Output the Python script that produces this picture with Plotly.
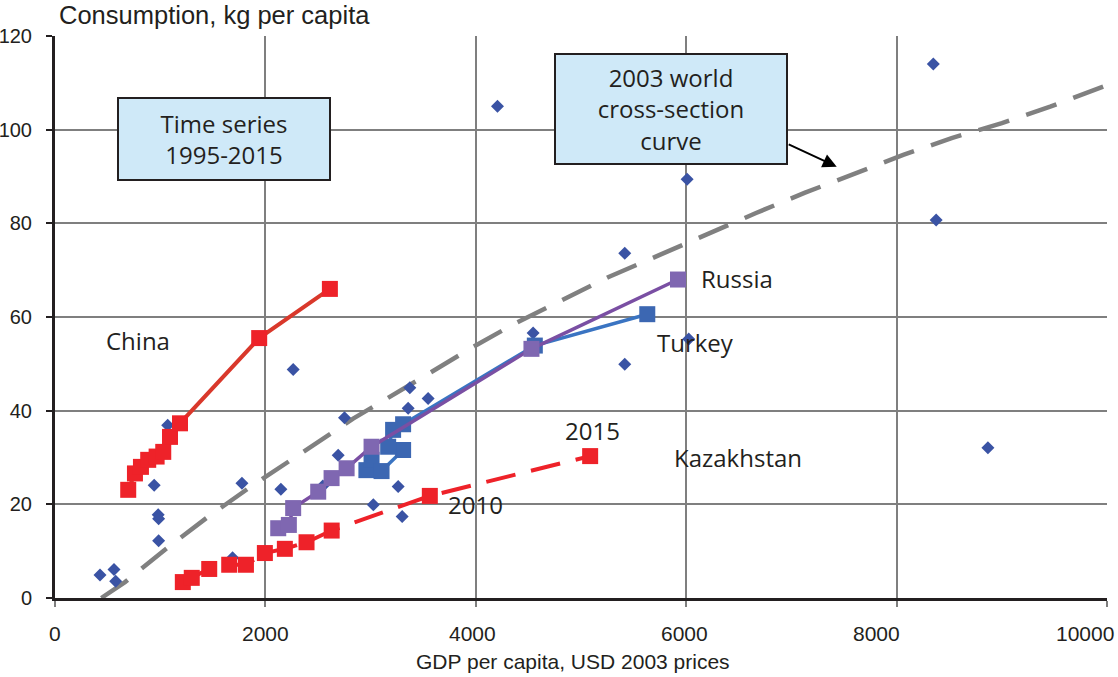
import plotly.graph_objects as go

# ---- data ----
china_gdp = [696, 760, 817, 886, 966, 1029, 1093, 1188, 1941, 2613]
china_cons = [23.1, 26.6, 28.0, 29.5, 30.2, 31.2, 34.4, 37.3, 55.5, 66.0]

kaz_gdp = [1215, 1300, 1466, 1656, 1815, 1995, 2185, 2391, 2630, 3563, 5087]
kaz_cons = [3.4, 4.3, 6.2, 7.1, 7.1, 9.6, 10.5, 11.9, 14.4, 21.8, 30.3]

russia_gdp = [2122, 2223, 2264, 2502, 2629, 2772, 3009, 4529, 5922]
russia_cons = [14.9, 15.6, 19.2, 22.7, 25.6, 27.7, 32.3, 53.2, 68.0]

turkey_gdp = [2960, 3009, 3104, 3309, 3167, 3214, 3309, 4561, 5630]
turkey_cons = [27.3, 29.5, 27.1, 31.6, 32.3, 35.9, 37.1, 53.9, 60.6]

world_gdp = [428, 577, 943, 981, 985, 985, 1071, 1777, 2147, 1688, 2264, 2752, 2692,
             3026, 3262, 3300, 3373, 3357, 3547, 4545, 5416, 5416, 6024, 4206, 6009,
             8349, 8376, 8868, 561, 2546]
world_cons = [4.9, 3.6, 24.1, 17.8, 16.9, 12.2, 36.9, 24.5, 23.2, 8.6, 48.8, 38.5, 30.5,
              19.9, 23.8, 17.4, 44.9, 40.5, 42.6, 56.6, 49.9, 73.6, 55.3, 105.0, 89.4,
              114.0, 80.7, 32.1, 6.1, 23.9]

curve_gdp = [440, 665, 1045, 1441, 1837, 2249, 2834, 3515, 3943, 4371, 4814, 5257,
             5743, 6204, 6664, 7124, 7602, 8063, 8523, 9001, 9460, 10000]
curve_cons = [0.0, 3.4, 10.3, 17.1, 23.4, 29.6, 38.3, 47.4, 53.2, 58.6, 63.5, 68.5,
              73.2, 77.8, 82.2, 86.5, 90.6, 94.6, 98.2, 101.4, 104.9, 109.5]

x_ticks = [0, 2000, 4000, 6000, 8000, 10000]
x_tick_labels = ["0", "2000", "4000", "6000", "8000", "10000"]
y_ticks = [0, 20, 40, 60, 80, 100, 120]

TXT = "#231F20"
LABEL_FONT = dict(family="Open Sans", size=24, color=TXT)

fig = go.Figure()

# world cross-section curve
fig.add_trace(go.Scatter(x=curve_gdp, y=curve_cons, mode="lines",
                         line=dict(color="#808080", width=4.5, dash="32px,18px"),
                         hoverinfo="skip"))

# cross-section scatter
fig.add_trace(go.Scatter(x=world_gdp, y=world_cons, mode="markers",
                         marker=dict(symbol="diamond", size=10, color="#3A53A4")))

# Kazakhstan
fig.add_trace(go.Scatter(x=kaz_gdp, y=kaz_cons, mode="lines+markers",
                         line=dict(color="#EE2229", width=4, dash="30px,16px"),
                         marker=dict(symbol="square", size=16, color="#EE2229")))
# China
fig.add_trace(go.Scatter(x=china_gdp, y=china_cons, mode="lines+markers",
                         line=dict(color="#D9382B", width=4),
                         marker=dict(symbol="square", size=16, color="#EE2229")))
# Turkey
fig.add_trace(go.Scatter(x=turkey_gdp, y=turkey_cons, mode="lines+markers",
                         line=dict(color="#3A74C2", width=3.5),
                         marker=dict(symbol="square", size=16, color="#3C67B2")))
# Russia
fig.add_trace(go.Scatter(x=russia_gdp, y=russia_cons, mode="lines+markers",
                         line=dict(color="#7A4FA3", width=3.5),
                         marker=dict(symbol="square", size=16, color="#7F67B1")))

ann = []
# text labels
for txt, x, y in [("China", 466, 55.0), ("Russia", 6119, 68.2), ("Turkey", 5701, 54.6),
                  ("Kazakhstan", 5862, 29.9), ("2015", 4827, 35.8), ("2010", 3715, 19.9)]:
    ann.append(dict(x=x, y=y, xref="x", yref="y", text=txt, showarrow=False,
                    xanchor="left", yanchor="middle", font=LABEL_FONT))

# boxes
ann.append(dict(x=1610, y=98.1, xref="x", yref="y", text="Time series<br>1995-2015",
                showarrow=False, bgcolor="#CFE9F8", bordercolor="#231F20", borderwidth=2,
                borderpad=0, width=210, height=80, align="center", valign="middle",
                font=LABEL_FONT))
ann.append(dict(x=5858, y=104.5, xref="x", yref="y",
                text="2003 world<br>cross-section<br>curve",
                showarrow=False, bgcolor="#CFE9F8", bordercolor="#231F20", borderwidth=2,
                borderpad=0, width=230, height=108, align="center", valign="middle",
                font=LABEL_FONT))
# arrow
ann.append(dict(x=7431, y=92.1, ax=6960, ay=97.0, xref="x", yref="y", axref="x", ayref="y",
                text="", showarrow=True, arrowhead=2, arrowsize=1.4, arrowwidth=2,
                arrowcolor="#000000"))

# axis titles
ann.append(dict(x=0.002, y=1.038, xref="paper", yref="paper", text="Consumption, kg per capita",
                showarrow=False, xanchor="left", yanchor="middle",
                font=dict(family="Liberation Sans", size=25.5, color=TXT)))
ann.append(dict(x=0.492, y=-0.113, xref="paper", yref="paper",
                text="GDP per capita, USD 2003 prices", showarrow=False,
                xanchor="center", yanchor="middle",
                font=dict(family="Liberation Sans", size=21, color=TXT)))

# x tick labels (placed as annotations to match the reference's alignment)
x_label_shift = [0, 0, -3, -2, -20, -22]
for v, lab, sh in zip(x_ticks, x_tick_labels, x_label_shift):
    ann.append(dict(x=v, y=0, xref="x", yref="y", text=lab, showarrow=False,
                    xanchor="center", yanchor="middle", yshift=-35, xshift=sh,
                    font=dict(family="Liberation Sans", size=21, color=TXT)))

fig.update_layout(
    width=1118, height=677,
    margin=dict(l=55, r=10.5, t=36, b=78.5, autoexpand=False),
    paper_bgcolor="white", plot_bgcolor="white",
    showlegend=False,
    annotations=ann,
    xaxis=dict(range=[0, 10000], tickvals=x_ticks, showticklabels=False,
               showgrid=True, gridcolor="#7F7F7F", gridwidth=1.5,
               showline=True, linecolor="#231F20", linewidth=3,
               ticks="outside", ticklen=6, tickcolor="#7F7F7F", tickwidth=1.5,
               zeroline=False, fixedrange=True, automargin=False),
    yaxis=dict(range=[0, 120], tickvals=y_ticks, showgrid=True, gridcolor="#7F7F7F",
               gridwidth=1.5, showline=True, linecolor="#231F20", linewidth=3,
               ticks="outside", ticklen=6, tickcolor="#231F20", tickwidth=2,
               zeroline=False, tickfont=dict(family="Liberation Sans", size=20, color=TXT),
               ticklabelstandoff=10, fixedrange=True, automargin=False),
)

# remove the page's default body margin so the figure fills the window exactly
fig.write_html("out.html",
               config={"displayModeBar": False},
               post_script="document.body.style.margin='0';"
                           "document.body.style.overflow='hidden';")
